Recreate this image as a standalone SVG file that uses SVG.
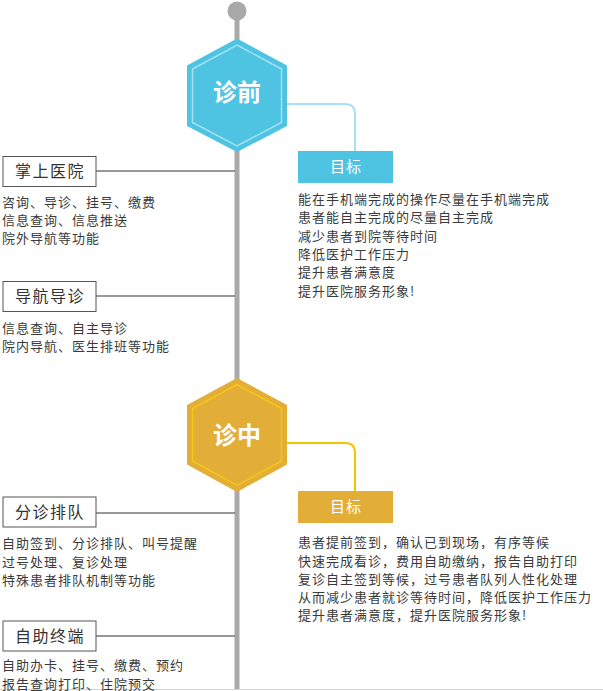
<svg xmlns="http://www.w3.org/2000/svg" width="603" height="691" viewBox="0 0 603 691">
<style>
text{font-family:"Noto Sans CJK SC","Liberation Sans",sans-serif;}
.body{font-size:13px;fill:#3a3a3a;letter-spacing:1px;}
.lbl{font-size:16px;fill:#333;letter-spacing:1.5px;text-anchor:middle;}
.lbox{fill:#fff;stroke:#555;stroke-width:1;}
.hline{stroke:#333;stroke-width:1;fill:none;}
.hex-t{font-size:24px;font-weight:bold;fill:#fff;text-anchor:middle;}
.goal{font-size:15px;fill:#fff;text-anchor:middle;letter-spacing:1px;}
.blue{fill:#4ec4e2;}
.yel{fill:#e3ae38;}
</style>
<rect width="603" height="691" fill="#fff"/>
<g id="timeline">
<line x1="237" y1="12" x2="237" y2="689" stroke="#a9a9a9" stroke-width="5"/>
<circle cx="237" cy="11" r="9.5" fill="#a9a9a9"/>
<line x1="0" y1="689.5" x2="603" y2="689.5" stroke="#d4d4d4" stroke-width="1"/>
</g>
<g id="connectors">
<path d="M287 104 H345 Q355 104 355 114 V152" stroke="#a6e0f5" stroke-width="2" fill="none"/>
<path d="M287 443 H345 Q355 443 355 453 V492" stroke="#f6c500" stroke-width="2" fill="none"/>
<line class="hline" x1="96" y1="171" x2="235" y2="171"/>
<line class="hline" x1="96" y1="296" x2="235" y2="296"/>
<line class="hline" x1="96" y1="513" x2="235" y2="513"/>
<line class="hline" x1="96" y1="636" x2="235" y2="636"/>
</g>
<g id="hex-pre">
<polygon class="blue" points="237,38.5 287,65.5 287,126 237,152 187,126 187,65.5"/>
<polygon points="237,45 281.5,69 281.5,122.5 237,146 192.5,122.5 192.5,69" fill="none" stroke="#a6e0f5" stroke-width="1.5"/>
<text class="hex-t" x="237" y="101">诊前</text>
</g>
<g id="goal-pre">
<rect class="blue" x="298" y="151" width="95" height="32"/>
<text class="goal" x="346" y="172">目标</text>
<text class="body" x="298" y="204">能在手机端完成的操作尽量在手机端完成</text>
<text class="body" x="298" y="222.3">患者能自主完成的尽量自主完成</text>
<text class="body" x="298" y="240.6">减少患者到院等待时间</text>
<text class="body" x="298" y="258.9">降低医护工作压力</text>
<text class="body" x="298" y="277.2">提升患者满意度</text>
<text class="body" x="298" y="295.5">提升医院服务形象!</text>
</g>
<g id="node-zhangshang">
<rect class="lbox" x="3" y="156.5" width="93" height="30"/>
<text class="lbl" x="50" y="177">掌上医院</text>
<text class="body" x="2" y="206.5">咨询、导诊、挂号、缴费</text>
<text class="body" x="2" y="224.5">信息查询、信息推送</text>
<text class="body" x="2" y="242.5">院外导航等功能</text>
</g>
<g id="node-daohang">
<rect class="lbox" x="3" y="281.5" width="93" height="30"/>
<text class="lbl" x="50" y="302">导航导诊</text>
<text class="body" x="2" y="332.5">信息查询、自主导诊</text>
<text class="body" x="2" y="350.5">院内导航、医生排班等功能</text>
</g>
<g id="hex-mid">
<polygon class="yel" points="237,378 287,405 287,464.5 237,492 187,464.5 187,405"/>
<polygon points="237,384.5 281.5,408.5 281.5,461 237,485.5 192.5,461 192.5,408.5" fill="none" stroke="#f5c518" stroke-width="1.5"/>
<text class="hex-t" x="237" y="444">诊中</text>
</g>
<g id="goal-mid">
<rect class="yel" x="298" y="491" width="95" height="32"/>
<text class="goal" x="346" y="512">目标</text>
<text class="body" x="298" y="547.3">患者提前签到，确认已到现场，有序等候</text>
<text class="body" x="298" y="565.5">快速完成看诊，费用自助缴纳，报告自助打印</text>
<text class="body" x="298" y="583.7">复诊自主签到等候，过号患者队列人性化处理</text>
<text class="body" x="298" y="601.9">从而减少患者就诊等待时间，降低医护工作压力</text>
<text class="body" x="298" y="620">提升患者满意度，提升医院服务形象!</text>
</g>
<g id="node-fenzhen">
<rect class="lbox" x="3" y="497" width="93" height="30"/>
<text class="lbl" x="50" y="518">分诊排队</text>
<text class="body" x="2" y="548.3">自助签到、分诊排队、叫号提醒</text>
<text class="body" x="2" y="566.5">过号处理、复诊处理</text>
<text class="body" x="2" y="584.8">特殊患者排队机制等功能</text>
</g>
<g id="node-zizhu">
<rect class="lbox" x="3" y="621" width="93" height="30"/>
<text class="lbl" x="50" y="642">自助终端</text>
<text class="body" x="2" y="670">自助办卡、挂号、缴费、预约</text>
<text class="body" x="2" y="688.5">报告查询打印、住院预交</text>
</g>
</svg>
